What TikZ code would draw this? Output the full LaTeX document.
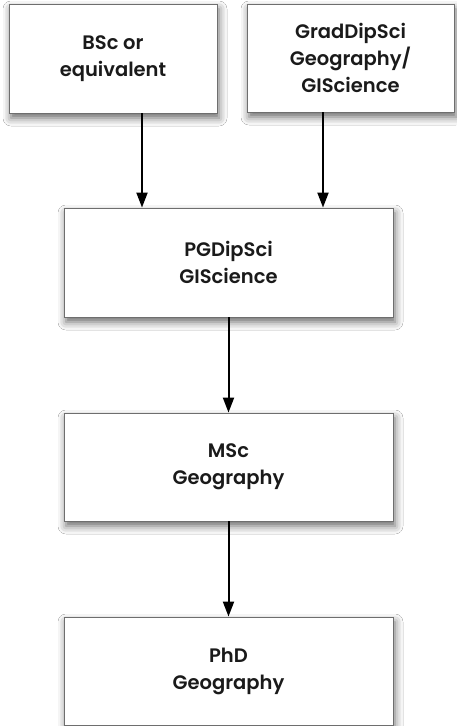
\documentclass[tikz,border=0pt]{standalone}
\usepackage{fontspec}
\setmainfont{Poppins}[UprightFont=* SemiBold]
\usetikzlibrary{arrows.meta,shadows.blur}
\definecolor{boxline}{HTML}{6E6E6E}
\definecolor{ink}{HTML}{1A1A1A}
\tikzset{
  stage/.style={draw=boxline, line width=0.9pt, fill=white, text=ink,
    align=center, inner sep=0pt, font=\fontsize{19.5}{27}\selectfont,
    blur shadow={shadow xshift=2pt, shadow yshift=-5pt,
      shadow blur radius=8pt, shadow opacity=60}},
  flow/.style={line width=2pt, draw=black,
    -{Triangle[width=11pt,length=15pt]}}
}
\begin{document}
\begin{tikzpicture}[x=1pt,y=-1pt]
  \fill[white] (0,0) rectangle (457,726);
  \useasboundingbox (0,0) rectangle (457,726);

  \node[stage, minimum width=208pt, minimum height=109pt] (bsc) at (113,58.5)
    {BSc or\\equivalent};
  \node[stage, minimum width=207pt, minimum height=108pt] (grad) at (350.5,58)
    {GradDipSci\\Geography/\\GIScience};
  \node[stage, minimum width=329pt, minimum height=109pt] (pg) at (228.5,262.5)
    {PGDipSci\\GIScience};
  \node[stage, minimum width=329pt, minimum height=108pt] (msc) at (228.5,467)
    {MSc\\Geography};
  \node[stage, minimum width=329pt, minimum height=108pt] (phd) at (228.5,671)
    {PhD\\Geography};

  % entry routes join the postgraduate diploma off-centre
  \coordinate (left) at (142,0);
  \coordinate (right) at (323,0);
  \draw[flow] (bsc.south -| left) -- (pg.north -| left);
  \draw[flow] (grad.south -| right) -- (pg.north -| right);
  \draw[flow] (pg) -- (msc);
  \draw[flow] (msc) -- (phd);
\end{tikzpicture}
\end{document}
